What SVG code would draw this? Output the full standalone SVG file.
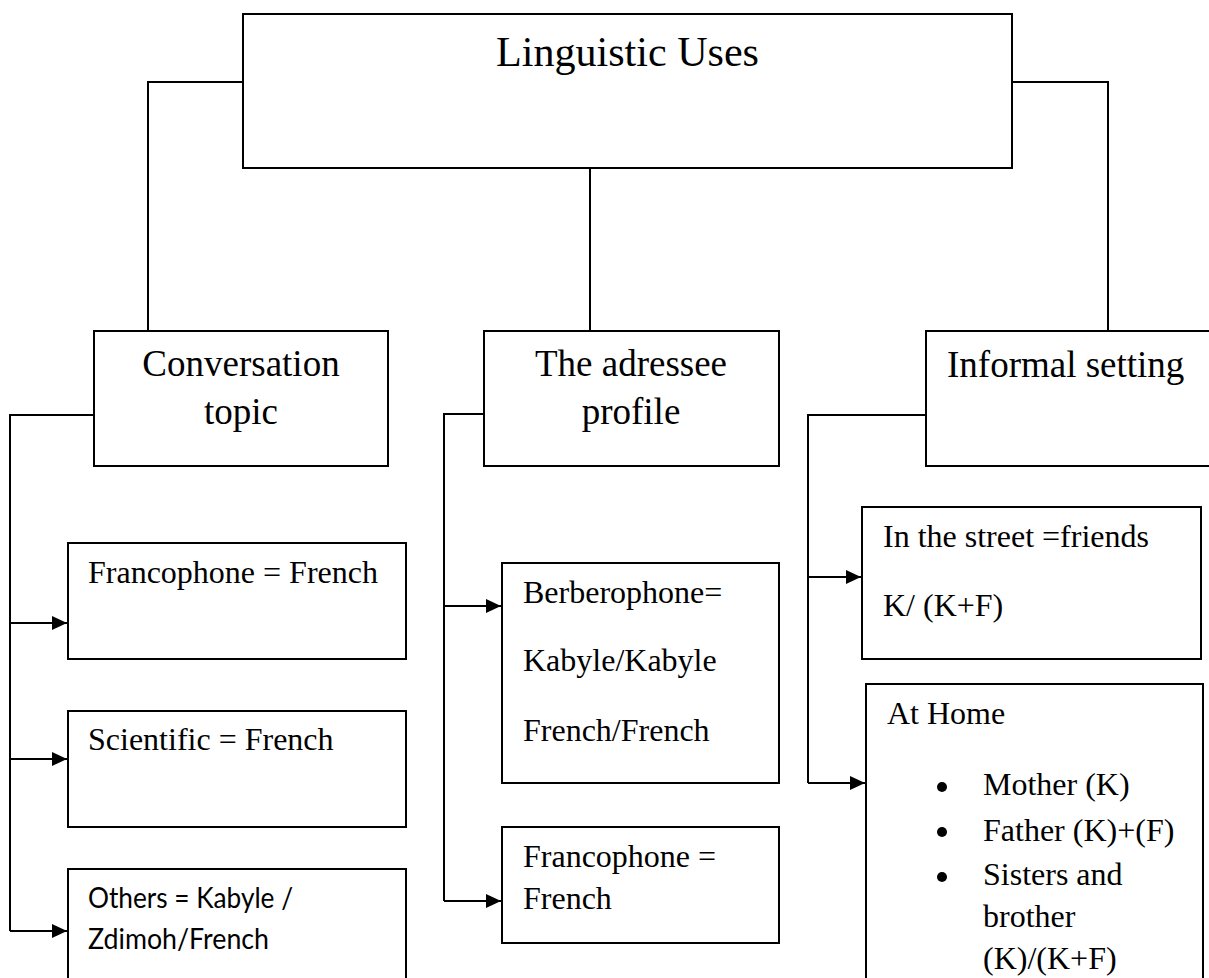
<svg xmlns="http://www.w3.org/2000/svg" width="1209" height="978" viewBox="0 0 1209 978">
  <style>
    .box { fill: #ffffff; stroke: #000000; stroke-width: 2; }
    .link { fill: none; stroke: #000000; stroke-width: 2; }
    .serif { font-family: "Liberation Serif", "Times New Roman", serif; fill: #000000; }
    .title { font-size: 43px; }
    .head { font-size: 37px; }
    .body { font-size: 32px; }
    .sans { font-family: Lato, "Open Sans", "Liberation Sans", sans-serif; font-size: 29px; fill: #000000; }
    .mid { text-anchor: middle; }
  </style>
  <defs>
    <marker id="arrow" markerUnits="userSpaceOnUse" markerWidth="15" markerHeight="14" refX="15" refY="7" orient="auto">
      <path d="M0,0 L15,7 L0,14 Z" fill="#000000"/>
    </marker>
  </defs>

  <rect width="1209" height="978" fill="#ffffff"/>

  <!-- connectors -->
  <g id="connectors">
    <path class="link" d="M243,82 H148 V331"/>
    <path class="link" d="M590,168 V331"/>
    <path class="link" d="M1012,82 H1108 V331"/>

    <path class="link" d="M94,415 H10 V931"/>
    <path class="link" d="M10,623 H67" marker-end="url(#arrow)"/>
    <path class="link" d="M10,759 H67" marker-end="url(#arrow)"/>
    <path class="link" d="M10,931 H67" marker-end="url(#arrow)"/>

    <path class="link" d="M484,414 H444 V901"/>
    <path class="link" d="M444,606 H501" marker-end="url(#arrow)"/>
    <path class="link" d="M444,901 H501" marker-end="url(#arrow)"/>

    <path class="link" d="M926,415 H808 V783"/>
    <path class="link" d="M808,577 H861" marker-end="url(#arrow)"/>
    <path class="link" d="M808,783 H865" marker-end="url(#arrow)"/>
  </g>

  <!-- root -->
  <g id="linguistic-uses">
    <rect class="box" x="243" y="14" width="769" height="154"/>
    <text class="serif title" x="496" y="66" textLength="263" lengthAdjust="spacingAndGlyphs">Linguistic Uses</text>
  </g>

  <!-- categories -->
  <g id="conversation-topic">
    <rect class="box" x="94" y="331" width="294" height="135"/>
    <text class="serif head mid" x="241" y="376">Conversation</text>
    <text class="serif head mid" x="241" y="424">topic</text>
  </g>

  <g id="addressee-profile">
    <rect class="box" x="484" y="331" width="295" height="135"/>
    <text class="serif head mid" x="631" y="376">The adressee</text>
    <text class="serif head mid" x="631" y="424">profile</text>
  </g>

  <g id="informal-setting">
    <rect class="box" x="926" y="331" width="300" height="135"/>
    <text class="serif head" x="947" y="377">Informal setting</text>
  </g>

  <!-- conversation topic leaves -->
  <g id="topic-francophone">
    <rect class="box" x="68" y="543" width="338" height="116"/>
    <text class="serif body" x="88" y="583">Francophone = French</text>
  </g>

  <g id="topic-scientific">
    <rect class="box" x="68" y="711" width="338" height="116"/>
    <text class="serif body" x="88" y="750">Scientific = French</text>
  </g>

  <g id="topic-others">
    <rect class="box" x="68" y="869" width="338" height="130"/>
    <text class="sans" x="88" y="908" textLength="205" lengthAdjust="spacingAndGlyphs">Others = Kabyle /</text>
    <text class="sans" x="88" y="949" textLength="181" lengthAdjust="spacingAndGlyphs">Zdimoh/French</text>
  </g>

  <!-- addressee leaves -->
  <g id="addressee-berberophone">
    <rect class="box" x="502" y="563" width="277" height="220"/>
    <text class="serif body" x="523" y="603">Berberophone=</text>
    <text class="serif body" x="523" y="671">Kabyle/Kabyle</text>
    <text class="serif body" x="523" y="741">French/French</text>
  </g>

  <g id="addressee-francophone">
    <rect class="box" x="502" y="827" width="277" height="116"/>
    <text class="serif body" x="523" y="867">Francophone =</text>
    <text class="serif body" x="523" y="909">French</text>
  </g>

  <!-- informal setting leaves -->
  <g id="setting-street">
    <rect class="box" x="862" y="507" width="339" height="152"/>
    <text class="serif body" x="883" y="547">In the street =friends</text>
    <text class="serif body" x="883" y="616">K/ (K+F)</text>
  </g>

  <g id="setting-home">
    <rect class="box" x="866" y="684" width="337" height="310"/>
    <text class="serif body" x="887" y="724">At Home</text>
    <circle cx="942" cy="787" r="5" fill="#000000"/>
    <circle cx="942" cy="832" r="5" fill="#000000"/>
    <circle cx="942" cy="877" r="5" fill="#000000"/>
    <text class="serif body" x="983" y="795">Mother (K)</text>
    <text class="serif body" x="983" y="841">Father (K)+(F)</text>
    <text class="serif body" x="983" y="885">Sisters and</text>
    <text class="serif body" x="983" y="927">brother</text>
    <text class="serif body" x="983" y="969">(K)/(K+F)</text>
  </g>
</svg>
